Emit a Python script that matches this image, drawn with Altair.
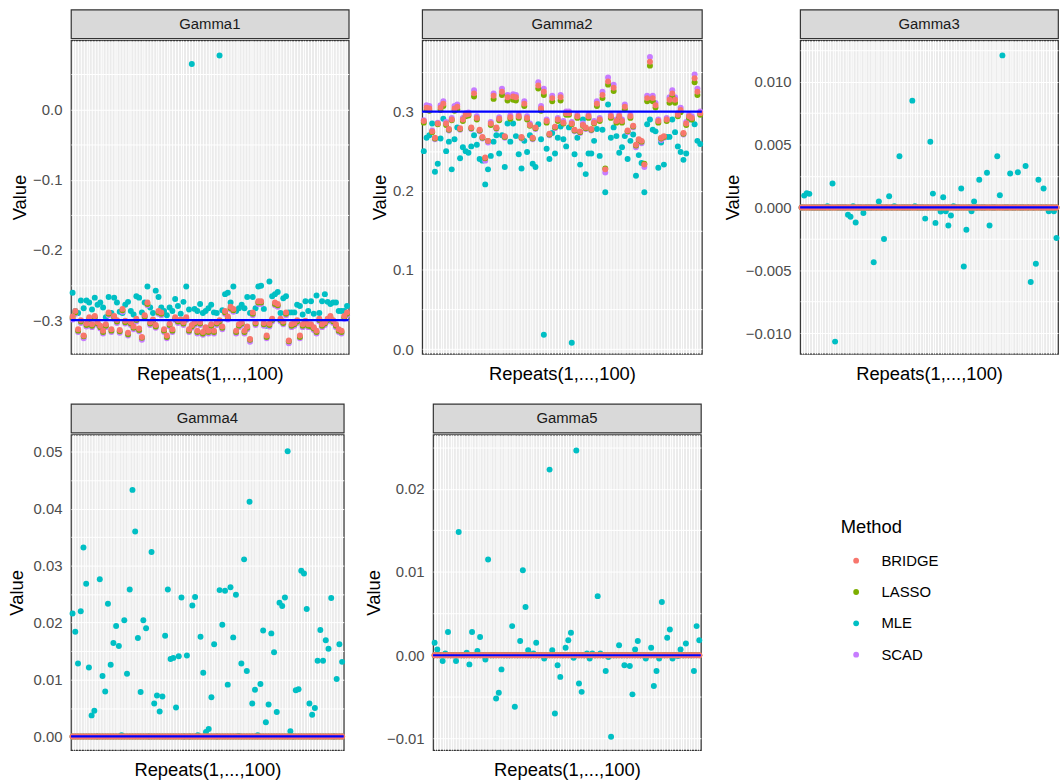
import altair as alt
import pandas as pd

FONT = "Liberation Sans"
REPEATS = list(range(1, 101))
METHODS = ["BRIDGE", "LASSO", "MLE", "SCAD"]
COLORS = ["#F8766D", "#7CAE00", "#00BFC4", "#C77CFF"]
DRAW_ORDER = ["MLE", "SCAD", "LASSO", "BRIDGE"]
PANELS = ["Gamma1", "Gamma2", "Gamma3", "Gamma4", "Gamma5"]
TRUE_VALUES = [-0.3, 0.3, 0.0, 0.0, 0.0]

G1_BRIDGE = [-0.295, -0.287, -0.313, -0.300, -0.322, -0.305, -0.296, -0.306, -0.294, -0.303,
             -0.308, -0.315, -0.306, -0.289, -0.313, -0.294, -0.300, -0.314, -0.284, -0.301,
             -0.318, -0.303, -0.309, -0.298, -0.312, -0.324, -0.293, -0.275, -0.303, -0.299,
             -0.307, -0.287, -0.289, -0.313, -0.322, -0.305, -0.313, -0.296, -0.300, -0.299,
             -0.303, -0.296, -0.313, -0.307, -0.303, -0.315, -0.303, -0.317, -0.310, -0.315,
             -0.306, -0.315, -0.303, -0.300, -0.309, -0.287, -0.295, -0.281, -0.284, -0.315,
             -0.306, -0.303, -0.315, -0.309, -0.327, -0.289, -0.303, -0.273, -0.273, -0.304,
             -0.322, -0.305, -0.298, -0.275, -0.277, -0.298, -0.302, -0.289, -0.329, -0.306,
             -0.304, -0.300, -0.322, -0.306, -0.301, -0.306, -0.306, -0.310, -0.315, -0.298,
             -0.306, -0.303, -0.298, -0.294, -0.300, -0.306, -0.313, -0.315, -0.294, -0.289]
G1_LASSO = [-0.297, -0.289, -0.315, -0.302, -0.323, -0.307, -0.298, -0.308, -0.296, -0.305,
            -0.310, -0.317, -0.308, -0.291, -0.315, -0.296, -0.302, -0.316, -0.286, -0.303,
            -0.320, -0.305, -0.311, -0.300, -0.314, -0.325, -0.295, -0.277, -0.305, -0.301,
            -0.309, -0.289, -0.291, -0.315, -0.324, -0.307, -0.315, -0.298, -0.302, -0.301,
            -0.305, -0.298, -0.315, -0.309, -0.305, -0.317, -0.305, -0.319, -0.312, -0.317,
            -0.308, -0.317, -0.305, -0.302, -0.311, -0.289, -0.297, -0.283, -0.286, -0.317,
            -0.308, -0.305, -0.317, -0.311, -0.328, -0.291, -0.305, -0.275, -0.275, -0.306,
            -0.324, -0.307, -0.300, -0.277, -0.279, -0.300, -0.304, -0.291, -0.330, -0.308,
            -0.306, -0.302, -0.324, -0.308, -0.303, -0.308, -0.309, -0.312, -0.317, -0.300,
            -0.308, -0.305, -0.300, -0.296, -0.302, -0.308, -0.315, -0.317, -0.296, -0.291]
G1_SCAD = [-0.299, -0.291, -0.317, -0.304, -0.326, -0.309, -0.300, -0.310, -0.298, -0.307,
           -0.312, -0.319, -0.310, -0.293, -0.317, -0.298, -0.304, -0.318, -0.288, -0.305,
           -0.322, -0.307, -0.313, -0.302, -0.316, -0.328, -0.297, -0.279, -0.307, -0.303,
           -0.311, -0.291, -0.293, -0.317, -0.326, -0.309, -0.317, -0.300, -0.304, -0.303,
           -0.307, -0.300, -0.317, -0.311, -0.307, -0.319, -0.307, -0.321, -0.314, -0.319,
           -0.310, -0.319, -0.307, -0.304, -0.313, -0.291, -0.299, -0.285, -0.288, -0.319,
           -0.310, -0.307, -0.319, -0.313, -0.331, -0.293, -0.307, -0.277, -0.277, -0.308,
           -0.326, -0.309, -0.302, -0.279, -0.281, -0.302, -0.306, -0.293, -0.333, -0.310,
           -0.308, -0.304, -0.326, -0.310, -0.305, -0.310, -0.310, -0.314, -0.319, -0.302,
           -0.310, -0.307, -0.302, -0.298, -0.304, -0.310, -0.317, -0.319, -0.298, -0.293]
G1_MLE = [-0.261, -0.287, -0.290, -0.272, -0.283, -0.272, -0.275, -0.285, -0.268, -0.278,
          -0.275, -0.282, -0.296, -0.267, -0.290, -0.268, -0.275, -0.288, -0.290, -0.278,
          -0.274, -0.287, -0.292, -0.266, -0.268, -0.289, -0.275, -0.252, -0.282, -0.290,
          -0.258, -0.267, -0.282, -0.287, -0.293, -0.282, -0.287, -0.270, -0.280, -0.291,
          -0.274, -0.252, -0.285, 0.065, -0.284, -0.287, -0.277, -0.290, -0.287, -0.283,
          -0.278, -0.289, -0.290, 0.077, -0.286, -0.263, -0.261, -0.275, -0.252, -0.287,
          -0.283, -0.278, -0.283, -0.267, -0.290, -0.267, -0.283, -0.252, -0.251, -0.284,
          -0.308, -0.245, -0.266, -0.263, -0.260, -0.290, -0.269, -0.266, -0.289, -0.289,
          -0.289, -0.278, -0.280, -0.292, -0.273, -0.287, -0.273, -0.291, -0.265, -0.290,
          -0.273, -0.263, -0.274, -0.277, -0.275, -0.275, -0.287, -0.287, -0.287, -0.280]

G2_BRIDGE = [0.288, 0.305, 0.304, 0.275, 0.267, 0.285, 0.305, 0.310, 0.285, 0.278,
             0.290, 0.304, 0.306, 0.279, 0.290, 0.296, 0.297, 0.280, 0.323, 0.292,
             0.277, 0.268, 0.242, 0.263, 0.285, 0.320, 0.280, 0.291, 0.325, 0.269,
             0.318, 0.293, 0.319, 0.318, 0.294, 0.268, 0.310, 0.292, 0.283, 0.267,
             0.280, 0.333, 0.304, 0.325, 0.288, 0.272, 0.317, 0.281, 0.290, 0.318,
             0.286, 0.298, 0.298, 0.285, 0.277, 0.294, 0.275, 0.283, 0.280, 0.294,
             0.278, 0.286, 0.310, 0.290, 0.321, 0.227, 0.338, 0.294, 0.330, 0.288,
             0.294, 0.288, 0.306, 0.276, 0.294, 0.282, 0.258, 0.265, 0.263, 0.233,
             0.317, 0.363, 0.317, 0.308, 0.288, 0.267, 0.269, 0.290, 0.315, 0.323,
             0.315, 0.296, 0.302, 0.273, 0.285, 0.294, 0.292, 0.342, 0.325, 0.298]
G2_LASSO = [0.286, 0.302, 0.301, 0.274, 0.266, 0.284, 0.302, 0.307, 0.283, 0.277,
            0.289, 0.301, 0.303, 0.278, 0.288, 0.294, 0.295, 0.279, 0.319, 0.290,
            0.276, 0.267, 0.241, 0.263, 0.283, 0.316, 0.279, 0.289, 0.321, 0.268,
            0.314, 0.291, 0.315, 0.314, 0.292, 0.267, 0.307, 0.290, 0.282, 0.266,
            0.279, 0.329, 0.301, 0.321, 0.286, 0.271, 0.313, 0.280, 0.288, 0.314,
            0.285, 0.296, 0.296, 0.284, 0.276, 0.292, 0.274, 0.282, 0.279, 0.292,
            0.277, 0.285, 0.307, 0.288, 0.317, 0.228, 0.334, 0.292, 0.326, 0.286,
            0.292, 0.286, 0.303, 0.275, 0.292, 0.281, 0.257, 0.264, 0.262, 0.234,
            0.313, 0.358, 0.313, 0.305, 0.286, 0.266, 0.268, 0.288, 0.311, 0.319,
            0.311, 0.294, 0.299, 0.272, 0.283, 0.292, 0.290, 0.337, 0.321, 0.296]
G2_SCAD = [0.289, 0.308, 0.307, 0.276, 0.265, 0.286, 0.308, 0.313, 0.287, 0.276,
           0.292, 0.307, 0.309, 0.277, 0.292, 0.298, 0.299, 0.278, 0.327, 0.294,
           0.275, 0.266, 0.238, 0.261, 0.287, 0.323, 0.278, 0.293, 0.329, 0.267,
           0.321, 0.295, 0.322, 0.321, 0.296, 0.266, 0.313, 0.294, 0.285, 0.265,
           0.278, 0.337, 0.307, 0.329, 0.290, 0.270, 0.320, 0.279, 0.292, 0.321,
           0.288, 0.300, 0.300, 0.287, 0.275, 0.296, 0.273, 0.285, 0.278, 0.296,
           0.276, 0.288, 0.313, 0.292, 0.325, 0.223, 0.343, 0.296, 0.334, 0.290,
           0.296, 0.290, 0.309, 0.274, 0.296, 0.280, 0.255, 0.262, 0.260, 0.230,
           0.320, 0.369, 0.320, 0.311, 0.290, 0.264, 0.267, 0.292, 0.318, 0.327,
           0.318, 0.298, 0.305, 0.271, 0.287, 0.296, 0.294, 0.347, 0.329, 0.300]
G2_MLE = [0.250, 0.267, 0.270, 0.285, 0.224, 0.234, 0.266, 0.291, 0.250, 0.262,
          0.227, 0.265, 0.280, 0.241, 0.255, 0.250, 0.248, 0.256, 0.270, 0.258,
          0.240, 0.238, 0.208, 0.227, 0.244, 0.262, 0.270, 0.247, 0.270, 0.230,
          0.285, 0.262, 0.285, 0.269, 0.246, 0.228, 0.263, 0.249, 0.270, 0.234,
          0.230, 0.284, 0.265, 0.018, 0.253, 0.240, 0.273, 0.247, 0.267, 0.281,
          0.265, 0.256, 0.280, 0.008, 0.246, 0.267, 0.233, 0.290, 0.221, 0.247,
          0.247, 0.263, 0.278, 0.244, 0.277, 0.198, 0.309, 0.267, 0.280, 0.269,
          0.248, 0.255, 0.269, 0.240, 0.263, 0.271, 0.219, 0.245, 0.235, 0.198,
          0.284, 0.290, 0.277, 0.275, 0.229, 0.261, 0.233, 0.268, 0.268, 0.290,
          0.274, 0.256, 0.249, 0.239, 0.247, 0.290, 0.290, 0.284, 0.263, 0.259]

G3_MLE = [0.0, 0.00094, 0.00113, 0.00108, 0.0, 0.0, 0.0, 0.0, 0.0, 0.0,
          0.0001, 0.0, 0.0019, -0.01068, 0.0, 0.0, 0.0, 0.0, -0.00058, -0.00075,
          0.0001, -0.0012, 0.0, 0.0, -0.00045, 0.0, 0.0, 0.0, -0.00436, 0.0,
          0.00047, 0.0, -0.00252, 0.0, 0.00089, 0.0, 0.0001, 0.0, 0.00407, 0.0,
          0.0, 0.0, 0.0, 0.0085, 0.0001, 0.0, 0.0, 0.0, -0.00089, 0.0,
          0.00522, 0.0011, -0.00123, 0.0, -0.00033, 0.00081, -0.0003, -0.00144, -0.00064, 0.0001,
          0.0, 0.0, 0.0015, -0.0047, -0.00178, 0.0, -0.0003, 0.00047, 0.0, 0.0022,
          0.0, 0.0, 0.00276, -0.00144, 0.0, 0.0, 0.00407, 0.00097, 0.0121, 0.0,
          0.0, 0.0027, 0.0, 0.0, 0.0028, 0.0, 0.0, 0.0033, 0.0, -0.00593,
          0.0, -0.00449, 0.0022, 0.0, 0.00151, 0.0, -0.0003, 0.0, -0.0003, -0.00244]
G4_MLE = [0.0216, 0.0184, 0.0128, 0.0220, 0.0332, 0.0268, 0.0121, 0.0037, 0.0045, 0.0,
          0.0276, 0.0106, 0.0079, 0.0233, 0.0126, 0.0164, 0.0194, 0.0159, 0.0002, 0.0204,
          0.0110, 0.0258, 0.0433, 0.0360, 0.0173, 0.0078, 0.0204, 0.0190, 0.0, 0.0324,
          0.0058, 0.0072, 0.0044, 0.0070, 0.0177, 0.0258, 0.0136, 0.0138, 0.0051, 0.0141,
          0.0244, 0.0, 0.0142, 0.0, 0.0230, 0.0245, 0.0002, 0.0175, 0.0112, 0.0008,
          0.0013, 0.0069, 0.0162, 0.0, 0.0257, 0.0196, 0.0256, 0.0091, 0.0262, 0.0174,
          0.0249, 0.0001, 0.0128, 0.0311, 0.0115, 0.0412, 0.0058, 0.0082, 0.0002, 0.0092,
          0.0186, 0.0025, 0.0056, 0.0181, 0.0148, 0.0043, 0.0235, 0.0229, 0.0244, 0.0501,
          0.0009, 0.0, 0.0081, 0.0083, 0.0291, 0.0286, 0.0224, 0.0058, 0.0038, 0.0050,
          0.0133, 0.0187, 0.0133, 0.0169, 0.0154, 0.0243, 0.0, 0.0101, 0.0162, 0.0131]
G5_MLE = [0.0015, 0.0007, 0.0, -0.0007, 0.0002, 0.0028, 0.0, 0.0, -0.0007, 0.0148,
          0.0, 0.0, 0.0003, -0.0011, 0.0028, 0.0, 0.0005, 0.0022, 0.0, -0.0005,
          0.0115, 0.0, 0.0, -0.0052, -0.0045, -0.0017, 0.0, 0.0, 0.0, 0.0035,
          -0.0062, 0.0, 0.0017, 0.0102, 0.0058, 0.0006, 0.0, 0.0002, 0.0015, 0.0,
          0.0, -0.0004, 0.0, 0.0223, 0.0006, -0.0070, -0.0012, -0.0026, 0.0, 0.0009,
          0.0018, 0.0027, -0.0003, 0.0246, -0.0034, -0.0044, 0.0, 0.0002, -0.0004, 0.0002,
          0.0, 0.0071, 0.0002, 0.0, -0.0019, -0.0002, -0.0098, 0.0, 0.0, 0.0012,
          0.0, -0.0012, 0.0, -0.0013, -0.0047, 0.0007, 0.0017, 0.0, 0.0, -0.0004,
          0.0, 0.0009, -0.0037, -0.0019, -0.0004, 0.0064, 0.0, 0.0021, 0.0031, -0.0004,
          0.0, -0.0001, 0.0007, 0.0, 0.0014, 0.0, 0.0, -0.0019, 0.0035, 0.0018]
# penalised estimators shrink the null effects exactly to zero
ZERO_ESTIMATES = [0.0] * 100

SERIES = {
    "Gamma1": {"BRIDGE": G1_BRIDGE, "LASSO": G1_LASSO, "MLE": G1_MLE, "SCAD": G1_SCAD},
    "Gamma2": {"BRIDGE": G2_BRIDGE, "LASSO": G2_LASSO, "MLE": G2_MLE, "SCAD": G2_SCAD},
    "Gamma3": {"BRIDGE": ZERO_ESTIMATES, "LASSO": ZERO_ESTIMATES, "MLE": G3_MLE, "SCAD": ZERO_ESTIMATES},
    "Gamma4": {"BRIDGE": ZERO_ESTIMATES, "LASSO": ZERO_ESTIMATES, "MLE": G4_MLE, "SCAD": ZERO_ESTIMATES},
    "Gamma5": {"BRIDGE": ZERO_ESTIMATES, "LASSO": ZERO_ESTIMATES, "MLE": G5_MLE, "SCAD": ZERO_ESTIMATES},
}

# y axis settings per panel (free y scales)
Y_DOMAINS = [[-0.348, 0.0986], [-0.006, 0.39], [-0.01165, 0.0133], [-0.0024, 0.053], [-0.0114, 0.0265]]
Y_MAJOR = [[-0.3, -0.2, -0.1, 0.0], [0.0, 0.1, 0.2, 0.3],
           [-0.01, -0.005, 0.0, 0.005, 0.01], [0.0, 0.01, 0.02, 0.03, 0.04, 0.05],
           [-0.01, 0.0, 0.01, 0.02]]
Y_MINOR = [[-0.25, -0.15, -0.05, 0.05], [0.05, 0.15, 0.25, 0.35],
           [-0.0075, -0.0025, 0.0025, 0.0075, 0.0125], [0.005, 0.015, 0.025, 0.035, 0.045],
           [-0.005, 0.005, 0.015, 0.025]]
Y_FORMATS = [".1f", ".1f", ".3f", ".2f", ".2f"]

WIDTHS = [280, 282, 260, 275, 270]
HEIGHTS = [316, 316, 316, 318, 318]
STRIP_H = 29
TITLE_PAD = [3, 3, 3, 6.5, 3]

for s in SERIES.values():
    for v in s.values():
        assert len(v) == 100

color_scale = alt.Scale(domain=METHODS, range=COLORS)
legend = alt.Legend(
    title="Method", orient="none", legendX=776, legendY=513,
    titleFont=FONT, titleFontSize=18.5, titleFontWeight="normal", titleColor="black",
    titlePadding=16.5, labelFont=FONT, labelFontSize=15, labelColor="black",
    symbolType="circle", symbolSize=34, symbolStrokeWidth=0, symbolOffset=8, labelOffset=18,
    rowPadding=15.6, padding=0,
)


def panel(k):
    name = PANELS[k]
    W, H = WIDTHS[k], HEIGHTS[k]
    rows = []
    for rank, m in enumerate(DRAW_ORDER):
        for r, v in zip(REPEATS, SERIES[name][m]):
            rows.append({"repeat": r, "value": v, "method": m, "draw": rank})
    df = pd.DataFrame(rows)

    strip = alt.Chart(pd.DataFrame({"label": [name]})).mark_text(
        font=FONT, fontSize=15, color="#1A1A1A"
    ).encode(
        x=alt.value(W / 2), y=alt.value(STRIP_H / 2), text="label:N"
    ).properties(
        width=W, height=STRIP_H,
        view=alt.ViewBackground(fill="#D9D9D9", stroke="#333333", strokeWidth=1.2),
    )

    majors = Y_MAJOR[k]
    label_expr = "indexof([" + ",".join(repr(v) for v in majors) + "], datum.value) >= 0 ? datum.label : ''"
    y_scale = alt.Scale(domain=Y_DOMAINS[k], nice=False, zero=False)
    y_axis = alt.Axis(values=sorted(majors + Y_MINOR[k]), labelExpr=label_expr,
                      format=Y_FORMATS[k], ticks=False, tickSize=0, domain=False,
                      grid=True, gridColor="white", gridWidth=1,
                      labelFont=FONT, labelFontSize=15, labelColor="#4D4D4D", labelPadding=9,
                      title="Value", titleFont=FONT, titleFontSize=18.5,
                      titleFontWeight="normal", titleColor="black", titlePadding=TITLE_PAD[k])
    points = alt.Chart(df).mark_circle(size=36, opacity=1).encode(
        x=alt.X("repeat:Q", scale=alt.Scale(domain=[0.4, 100.6], nice=False, zero=False),
                axis=alt.Axis(values=REPEATS, labels=False, ticks=False, tickSize=0, domain=False,
                              grid=True, gridColor="white", gridWidth=1,
                              title="Repeats(1,...,100)", titleFont=FONT, titleFontSize=18.5,
                              titleFontWeight="normal", titleColor="black", titlePadding=11)),
        y=alt.Y("value:Q", scale=y_scale, axis=y_axis, title="Value"),
        color=alt.Color("method:N", scale=color_scale, legend=legend),
        order=alt.Order("draw:Q"),
    )
    rule = alt.Chart(pd.DataFrame({"truth": [TRUE_VALUES[k]]})).mark_rule(
        color="#0000FF", strokeWidth=2.2
    ).encode(y=alt.Y("truth:Q", scale=y_scale, axis=y_axis, title="Value"))
    plot = alt.layer(points, rule).properties(width=W, height=H)
    return alt.vconcat(strip, plot, spacing=0)


row1 = alt.hconcat(panel(0), panel(1), panel(2), spacing=19)
row2 = alt.hconcat(panel(3), panel(4), spacing=18)
chart = alt.vconcat(row1, row2, spacing=18.5).properties(
    padding={"left": 6.5, "top": 5.5, "right": 0, "bottom": 0},
    background="white",
).configure_view(
    fill="#EBEBEB", stroke="#333333", strokeWidth=1.2
).configure_concat(spacing=0)

chart.save("out.html", embed_options={"renderer": "svg", "actions": False})
